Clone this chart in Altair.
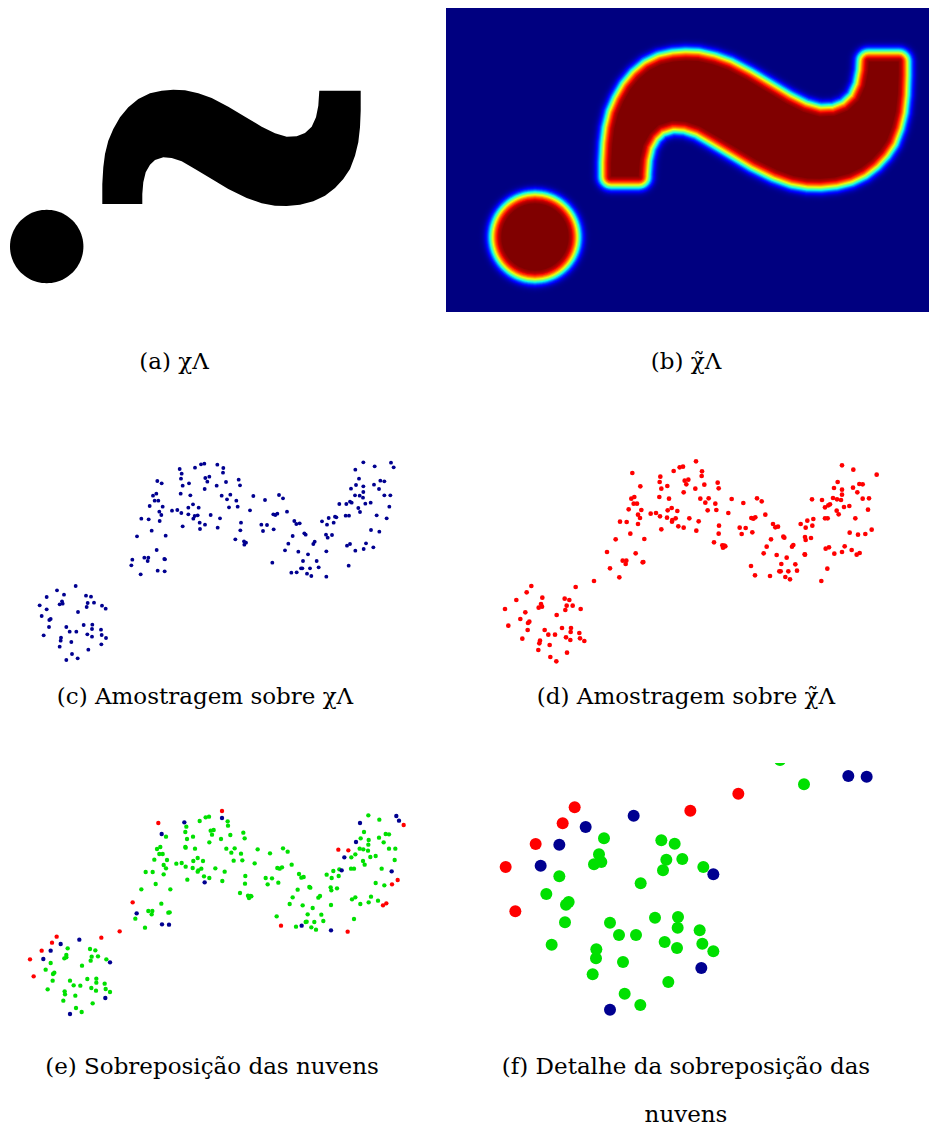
import math
import altair as alt
import pandas as pd

# ---------------- data ----------------
# (a)/(b) indicator set Lambda: outline of the tilde (pixels of panel a) and the disc
SHAPE_X = [102.3, 102.3, 103.3, 105.0, 108.3, 113.3, 120.0, 128.3, 138.3, 150.0, 161.7, 173.3, 185.0, 198.3,
           211.7, 228.3, 245.0, 261.7, 275.0, 286.7, 296.7, 305.0, 311.7, 316.0, 318.3, 319.3, 360.7,
           360.7, 360.0, 358.3, 355.0, 350.0, 343.3, 335.0, 325.0, 313.3, 300.0, 286.7, 275.0, 261.7, 246.7,
           228.3, 211.7, 195.0, 181.7, 171.7, 163.3, 155.0, 150.0, 145.7, 143.3, 142.3, 142.3]
SHAPE_Y = [204.0, 184.0, 167.3, 154.0, 140.7, 129.0, 117.3, 107.3, 99.0, 93.3, 90.7, 89.7, 90.3, 93.3,
           98.0, 106.7, 116.7, 126.7, 133.3, 136.7, 136.3, 133.0, 126.7, 117.3, 105.7, 90.7, 90.7,
           110.7, 127.3, 142.3, 155.7, 169.0, 179.0, 188.0, 195.7, 201.3, 204.7, 206.0, 205.7, 203.3, 198.0,
           189.0, 179.0, 169.0, 161.3, 158.0, 157.3, 160.0, 164.7, 172.3, 182.3, 194.0, 204.0]
DOT_X = [46.7]
DOT_Y = [246.5]
DOT_D = [73.4]

# (c) samples over chi (units: sample coordinates)
C_DISC = [(227,408),(171,421),(192,434),(140,441),(258,437),(273,440),(186,454),(263,459),(282,458),(179,463),
          (188,461),(119,466),(306,467),(317,476),(140,478),(260,471),(234,486),(125,498),(148,510),(152,507),
          (251,525),(277,524),(199,531),(147,531),(303,539),(276,537),(209,545),(229,545),(131,556),(262,553),
          (305,555),(318,564),(276,560),(183,563),(182,572),(214,576),(179,590),(304,583),(265,599),(216,612),
          (199,630),(233,625)]
C_WAVE = [(472,93),(485,100),(539,57),(545,71),(585,53),(603,43),(613,41),(652,44),(670,54),(669,68),
          (543,86),(548,107),(567,100),(616,84),(628,80),(622,95),(614,117),(650,107),(678,96),(716,89),
          (720,106),(542,131),(571,136),(469,131),(459,137),(464,152),(475,152),(449,168),(488,170),(478,185),
          (484,195),(424,206),(446,208),(479,213),(455,242),(411,259),(497,257),(516,182),(532,180),(544,189),
          (565,173),(579,163),(596,173),(565,193),(584,198),(593,196),(580,206),(599,218),(615,224),(600,237),
          (548,229),(632,195),(660,205),(653,233),(665,137),(691,134),(681,148),(709,152),(687,172),(713,170),
          (750,181),(723,218),(721,241),(706,268),(732,274),(738,278),(733,284),(760,138),(795,150),(837,135),
          (849,145),(861,185),(820,193),(826,195),(832,191),(784,224),(801,225),(789,243),(821,238),(883,213),
          (889,222),(899,220),(878,258),(913,250),(917,254),(865,281),(855,301),(895,305),(944,275),(940,282),
          (924,313),(909,333),(950,333),(817,338),(903,355),(907,355),(930,355),(956,352),(874,368),(890,367),
          (921,371),(934,378),(979,380),
          (470,300),(433,323),(445,323),(443,333),(493,327),(495,328),(397,329),(394,346),(473,362),(494,364),
          (422,373)]
C_RIGHT = [(1090,37),(1124,49),(1173,38),(1181,52),(1066,59),(1077,86),(1068,105),(1090,109),(1122,104),(1141,92),
           (1153,94),(1137,117),(1053,116),(1065,136),(1090,126),(1079,137),(1089,143),(1096,161),(1112,158),(1153,136),
           (1171,136),(1050,155),(1055,158),(1018,162),(1039,162),(1075,174),(1080,186),(1168,170),(1130,196),(1160,205),
           (1037,197),(1047,197),(966,214),(986,204),(1005,200),(1009,202),(1001,218),(981,224),(978,254),(983,263),
           (996,255),(1113,240),(1138,245),(1098,280),(1120,292),(1091,297),(1050,282),(1041,287),(1066,302),(979,304),
           (1046,347)]

# (d) samples over smoothed chi
D_DISC = [(154,408),(140,427),(287,411),(109,450),(187,443),(254,446),(268,450),(75,477),(183,462),(176,473),
          (186,470),(260,467),(278,467),(302,477),(256,480),(136,487),(230,495),(121,507),(148,515),(144,519),
          (85,527),(246,534),(273,534),(194,540),(143,540),(272,546),(298,549),(205,554),(225,554),(127,566),
          (258,562),(300,565),(271,570),(313,573),(180,572),(178,580),(209,585),(175,600),(261,608),(211,621),
          (229,634),(342,393),(381,306),(390,355),(418,382),(407,268),(428,332),(439,332),(437,342),(467,310),
          (488,337),(490,336),(493,267)]
D_WAVE = [(457,69),(481,109),(454,146),(463,141),(461,161),(471,161),(446,178),(484,180),(474,194),(480,204),
          (420,215),(440,216),(474,222),(451,251),(541,80),(539,96),(544,116),(562,108),(581,63),(599,52),
          (609,50),(648,34),(666,64),(665,78),(614,92),(625,89),(619,103),(611,127),(646,116),(673,104),
          (713,98),(716,115),(538,141),(567,146),(661,146),(686,145),(676,158),(706,161),(683,181),(709,180),
          (755,147),(745,189),(790,159),(831,145),(845,154),(512,191),(528,189),(540,199),(563,181),(575,174),
          (592,183),(561,203),(577,210),(587,205),(576,215),(595,229),(611,233),(628,205),(656,214),(649,242),
          (544,238),(717,227),(716,251),(702,277),(727,286),(733,287),(729,293),(736,289),(779,233),(797,234),
          (785,252),(817,247),(814,204),(820,206),(826,202),(856,194),(879,222),(886,232),(894,230),(873,268),
          (910,260),(913,263),(860,290),(851,310),(890,315),(920,323),(936,290),(940,285),(904,342),(946,343),
          (951,362),(813,348),(825,376),(870,378),(898,364),(902,364),(925,364),(916,381),(930,388),(974,313)]
D_RIGHT = [(1086,46),(1120,59),(1190,74),(1073,96),(1062,114),(1086,119),(1086,134),(1119,113),(1138,102),(1148,103),
           (1132,127),(1148,146),(1167,145),(1059,144),(1071,148),(1083,150),(1050,163),(1045,166),(1026,150),(1035,172),
           (1070,182),(1076,193),(1092,171),(1108,168),(1164,179),(1126,205),(996,148),(1035,205),(1043,205),(962,222),
           (982,212),(1000,207),(997,227),(977,233),(975,261),(977,270),(993,264),(1109,248),(1134,254),(1156,252),
           (1175,239),(1037,296),(1047,292),(1094,289),(1086,306),(1115,300),(1130,314),(1139,309),(1063,311),(975,314),
           (1042,356),(1024,393)]

# (e) overlay of both clouds
E_GREEN = [(203,445),(270,447),(286,451),(199,465),(193,475),(199,472),(275,470),(294,469),(319,478),(272,482),
           (152,489),(246,497),(137,509),(163,518),(159,522),(158,542),(210,542),(262,537),(289,536),(289,548),
           (314,551),(221,556),(241,557),(143,568),(274,564),(288,572),(317,567),(330,576),(194,574),(195,583),
           (226,587),(190,602),(278,610),(228,624),(245,636),
           (406,356),(435,383),(424,268),(445,333),(457,333),(455,343),(484,311),(505,338),(509,337),(511,268),
           (498,110),(471,147),(481,141),(478,162),(488,162),(463,179),(501,180),(491,195),(498,205),(437,216),
           (458,216),(491,223),(467,252),(559,80),(556,96),(561,117),(579,110),(599,63),(617,52),(627,50),
           (683,64),(684,77),(632,92),(641,90),(636,104),(628,127),(663,117),(691,105),(730,98),(734,115),
           (556,141),(557,143),(585,146),(679,146),(704,145),(694,158),(723,161),(701,182),(727,181),(773,148),
           (764,190),(810,160),(849,145),(863,155),(529,191),(545,189),(557,200),(580,183),(593,174),(609,183),
           (578,204),(595,211),(604,206),(593,215),(612,229),(628,234),(646,205),(674,215),(667,243),(562,239),
           (736,228),(735,251),(720,279),(744,287),(752,288),(747,294),(754,289),(797,234),(816,235),(803,253),
           (835,248),(832,204),(839,206),(846,202),(875,194),(897,222),(904,233),(911,231),(893,269),(928,261),
           (931,263),(878,292),(869,312),(908,316),(938,324),(955,293),(960,288),(923,343),(964,344),(970,363),
           (830,349),(888,380),(917,366),(920,365),(943,366),(934,382),(948,389),(993,315),
           (1105,46),(1138,59),(1092,96),(1082,115),(1106,120),(1105,134),(1137,113),(1157,102),(1167,103),(1151,127),
           (1167,146),(1186,146),(1079,146),(1090,148),(1104,152),(1066,163),(1054,172),(1053,206),(1062,206),(1089,183),
           (1094,194),(1111,171),(1127,168),(1184,180),(1145,206),(980,224),(1000,213),(1018,208),(1016,228),(995,234),
           (992,262),(994,271),(1011,265),(1127,249),(1153,256),(1056,298),(1066,292),(1113,290),(1106,307),(1134,302),
           (1081,312),(1062,357)]
E_RED = [(170,410),(156,428),(125,452),(90,478),(101,529),(304,413),(359,394),(398,307),(475,69),(666,33),
         (843,377),(1043,395),(1211,75),(1015,149),(1045,151),(1193,240),(1176,253),(1159,310),(1149,316)]
E_BLUE = [(238,419),(182,432),(152,452),(130,477),(330,487),(316,594),(210,642),(410,340),(486,373),(507,374),
          (485,102),(553,67),(614,247),(666,54),(905,377),(993,391),(1080,69),(1068,126),(1033,172),(1025,211),
          (1175,214),(1189,48),(1197,62)]

# (f) detail of the overlay
F_GREEN = [(870,30),(942,103),(342,265),(514,271),(554,281),(327,313),(334,336),(312,343),(529,329),(577,327),
           (519,361),(640,351),(208,379),(452,400),(169,432),(236,456),(228,464),(225,517),(360,518),(495,503),
           (564,501),(563,533),(629,541),(387,555),(438,555),(524,576),(637,581),(561,594),(670,604),(185,584),
           (319,598),(318,625),(399,636),(308,673),(535,696),(404,731),(451,765)]
F_RED = [(745,131),(601,182),(254,172),(218,220),(137,282),(47,351),(76,484)]
F_BLUE = [(1075,78),(1130,80),(431,197),(287,231),(208,284),(152,347),(670,373),(634,654),(360,779)]

CAPTIONS = ["(a) χΛ", "(b) χ̃Λ", "(c) Amostragem sobre χΛ", "(d) Amostragem sobre χ̃Λ",
            "(e) Sobreposição das nuvens", ["(f) Detalhe da sobreposição das", "nuvens"]]

# ---------------- styles / layout ----------------
BLUE = "#000090"
RED = "#ff0000"
GREEN = "#00e000"
FONT = "DejaVu Serif"
FSIZE = 23
WL, WR = 420, 483
H1, H2, H3 = 304, 271, 262
SIGMA = 4.5      # blur width (px of panel b)
CORE = 10        # depth of the saturated core below the level-1/2 contour (px)
RBANDS = 24      # number of 1-px colour bands outside the core
KB = 1.19        # px per unit in panel (b)


def jet(v):
    def interp(pts, t):
        for (x0, y0), (x1, y1) in zip(pts, pts[1:]):
            if x0 <= t <= x1:
                return y0 + (y1 - y0) * (t - x0) / (x1 - x0)
        return pts[-1][1]
    r = interp([(0, 0), (0.35, 0), (0.66, 1), (0.89, 1), (1, 0.5)], v)
    g = interp([(0, 0), (0.125, 0), (0.375, 1), (0.64, 1), (0.91, 0), (1, 0)], v)
    b = interp([(0, 0.5), (0.11, 1), (0.34, 1), (0.65, 0), (1, 0)], v)
    return "#%02x%02x%02x" % tuple(int(round(255 * c)) for c in (r, g, b))


def level(d):
    return 0.5 * math.erfc(d / (SIGMA * math.sqrt(2)))


def inset(pts, dist):
    """move every outline vertex inwards by dist (mitred)."""
    n = len(pts)
    area = sum(pts[i][0] * pts[(i + 1) % n][1] - pts[(i + 1) % n][0] * pts[i][1] for i in range(n))
    s = 1 if area > 0 else -1

    def normal(a, b):
        dx, dy = b[0] - a[0], b[1] - a[1]
        ln = math.hypot(dx, dy)
        return (-dy / ln * s, dx / ln * s)

    out = []
    for i in range(n):
        n1 = normal(pts[i - 1], pts[i])
        n2 = normal(pts[i], pts[(i + 1) % n])
        mx, my = n1[0] + n2[0], n1[1] + n2[1]
        ln = math.hypot(mx, my)
        mx, my = mx / ln, my / ln
        k = dist / max(mx * n1[0] + my * n1[1], 0.35)
        out.append((pts[i][0] + mx * k, pts[i][1] + my * k))
    return out


def disc_ring(cx, cy, rad, n=96):
    return [(cx + rad * math.cos(2 * math.pi * i / n), cy + rad * math.sin(2 * math.pi * i / n))
            for i in range(n)]


def outlines_df(rings):
    rows = []
    for k, ring in enumerate(rings):
        ring = list(ring) + [ring[0]]
        for i, (x, y) in enumerate(ring):
            rows.append({"poly": k, "i": i, "x": x, "y": y})
    return pd.DataFrame(rows)


def pts_df(pts):
    return pd.DataFrame({"x": [p[0] for p in pts], "y": [p[1] for p in pts]})


def scales(xd, yd):
    return (alt.X("x:Q", axis=None, scale=alt.Scale(domain=xd, nice=False, zero=False)),
            alt.Y("y:Q", axis=None, scale=alt.Scale(domain=yd, nice=False, zero=False, reverse=True)))


def title(text, offset, dx):
    return alt.TitleParams(text=text, orient="bottom", anchor="middle", offset=offset, dx=dx,
                           font=FONT, fontSize=FSIZE, fontWeight="normal", color="black", lineHeight=48)


def shape_layers(df, xd, yd, bands):
    X, Y = scales(xd, yd)
    out = []
    for sw, col in bands:
        props = dict(filled=True, fill=col, clip=True, interpolate="linear")
        if sw > 0:
            props.update(stroke=col, strokeWidth=sw, strokeJoin="round", strokeCap="round")
        else:
            props.update(strokeWidth=0)
        out.append(alt.Chart(df).mark_line(**props).encode(
            x=X, y=Y, detail="poly:N", order="i:Q"))
    return out


def scatter(groups, xd, yd, size, clip=False):
    X, Y = scales(xd, yd)
    return [alt.Chart(pts_df(p)).mark_circle(color=c, opacity=1, size=size, clip=clip).encode(x=X, y=Y)
            for p, c in groups]


outline = list(zip(SHAPE_X, SHAPE_Y))

# panel (a): the set itself
XA, YA = [8, 428], [8, 312]
df_a = outlines_df([outline] + [disc_ring(x, y, d / 2) for x, y, d in zip(DOT_X, DOT_Y, DOT_D)])
pa = alt.layer(*shape_layers(df_a, XA, YA, [(0, "black")])).properties(
    width=WL, height=H1, title=title(CAPTIONS[0], 39, -44))

# panel (b): smoothed indicator, drawn as the saturated core grown ring by ring
XB = [-28.09, -28.09 + WR / KB]
YB = [54.06, 54.06 + H1 / KB]
df_b = outlines_df([inset(outline, CORE / KB)] +
                   [disc_ring(x, y, d / 2 - CORE / KB) for x, y, d in zip(DOT_X, DOT_Y, DOT_D)])
bands = [(2 * r, jet(1.0) if r == 0 else jet(level(r - CORE - 0.5))) for r in range(RBANDS, -1, -1)]
pb = alt.layer(*shape_layers(df_b, XB, YB, bands)).properties(
    width=WR, height=H1, title=title(CAPTIONS[1], 39, -1.5),
    view=alt.ViewBackground(fill=jet(0.0), stroke=None))

# panel (c)
pc = alt.layer(*scatter([(C_DISC + C_WAVE + C_RIGHT, BLUE)], [24, 1284], [-144, 669], 15)).properties(
    width=WL, height=H2, title=title(CAPTIONS[2], 13, -13))

# panel (d)
pd_ = alt.layer(*scatter([(D_DISC + D_WAVE + D_RIGHT, RED)], [-102, 1347], [-144, 669], 22)).properties(
    width=WR, height=H2, title=title(CAPTIONS[3], 13, -1.5))

# panel (e)
pe = alt.layer(*scatter([(E_GREEN, GREEN), (E_RED, RED), (E_BLUE, BLUE)], [24, 1284], [-111, 675], 19)).properties(
    width=WL, height=H3, title=title(CAPTIONS[4], 31, -6))

# panel (f)
pf = alt.layer(*scatter([(F_GREEN, GREEN), (F_RED, RED), (F_BLUE, BLUE)], [-132, 1317], [39, 825], 144,
                        clip=True)).properties(
    width=WR, height=H3, title=title(CAPTIONS[5], 31, -1.5))

chart = alt.concat(pa, pb, pc, pd_, pe, pf, columns=2,
                   spacing=alt.RowColnumber(row=90, column=18), bounds="flush").properties(
    padding=0, background="white"
).configure_view(stroke=None)

chart.save("out.html", embed_options={"renderer": "svg", "actions": False})
